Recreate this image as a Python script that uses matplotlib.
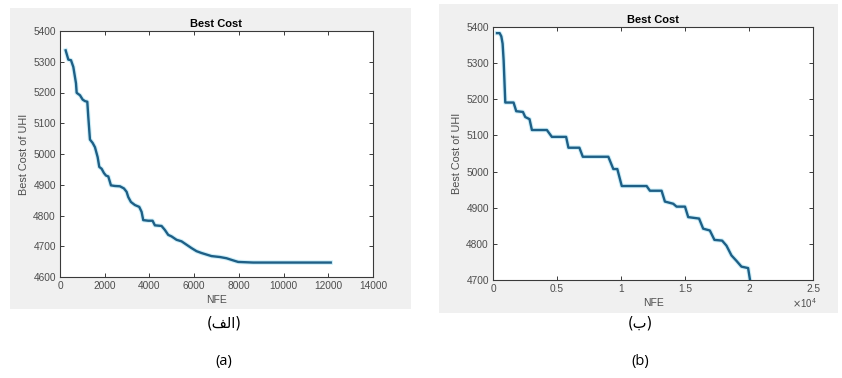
import matplotlib
matplotlib.use("Agg")
import matplotlib.pyplot as plt
from matplotlib.patches import Rectangle
from matplotlib.ticker import MultipleLocator

plt.rcParams['font.family'] = ['Liberation Sans', 'DejaVu Sans']

# Run (a): best cost against number of function evaluations
nfe_a = [253, 372, 492, 596, 715, 745, 894, 1013, 1117, 1221, 1266, 1340, 1460,
         1564, 1683, 1757, 1862, 1966, 2055, 2160, 2279, 2457, 2681, 2860, 2979,
         3053, 3172, 3351, 3545, 3649, 3723, 3947, 4140, 4244, 4542, 4691, 4840,
         4989, 5213, 5436, 5660, 5883, 6106, 6330, 6553, 6777, 7149, 7447, 7745,
         7968, 8638, 10128, 12109]
cost_a = [5337, 5307, 5305, 5283, 5230, 5199, 5191, 5177, 5172, 5170, 5120, 5047,
          5036, 5022, 4990, 4958, 4952, 4938, 4930, 4927, 4898, 4896, 4895, 4888,
          4877, 4860, 4844, 4834, 4828, 4812, 4785, 4783, 4783, 4768, 4766, 4753,
          4737, 4732, 4721, 4716, 4705, 4694, 4684, 4678, 4673, 4668, 4665, 4661,
          4654, 4649, 4647, 4647, 4647]

# Run (b): best cost against number of function evaluations
nfe_b = [312, 520, 650, 750, 830, 960, 1606, 1816, 2338, 2518, 2853, 3040, 4209,
         4598, 5713, 5892, 6750, 7015, 9010, 9400, 9712, 10060, 12000, 12260,
         13170, 13430, 14080, 14340, 15000, 15250, 16100, 16420, 16940, 17300,
         17900, 18240, 18630, 19020, 19410, 19930, 20080]
cost_b = [5383, 5383, 5374, 5354, 5308, 5191, 5191, 5167, 5165, 5151, 5145, 5115,
          5115, 5096, 5096, 5066, 5066, 5041, 5041, 5007, 5007, 4960, 4960, 4947,
          4947, 4917, 4911, 4903, 4903, 4874, 4870, 4842, 4837, 4811, 4809, 4795,
          4768, 4753, 4737, 4733, 4700]

line_color = '#1e5f86'
halo_color = '#cdeff9'
tick_color = '#4d4d4d'

W, H = 842, 378
fig = plt.figure(figsize=(W / 100, H / 100), dpi=100)
fig.patch.set_facecolor('white')


def px_rect(x0, y0, x1, y1):
    return [x0 / W, 1 - y1 / H, (x1 - x0) / W, (y1 - y0) / H]


# light gray panel behind each figure
for (x0, y0, x1, y1) in [(10, 8, 411, 309), (439, 4, 838, 313)]:
    fig.patches.append(Rectangle((x0 / W, 1 - y1 / H), (x1 - x0) / W, (y1 - y0) / H,
                                 transform=fig.transFigure, facecolor='#f0f0f0',
                                 edgecolor='none', zorder=-5))


def style_axes(ax):
    ax.set_zorder(2)
    ax.set_facecolor('white')
    for s in ax.spines.values():
        s.set_color('#3a3a3a')
        s.set_linewidth(0.8)
    ax.tick_params(direction='in', length=3, width=0.7, colors='#3a3a3a',
                   labelcolor=tick_color, labelsize=7.3, top=True, right=True, pad=3)
    ax.set_title('Best Cost', fontsize=8, fontweight='bold', pad=3)
    ax.set_ylabel('Best Cost of UHI', fontsize=7.8, color=tick_color, labelpad=3)
    ax.set_xlabel('NFE', fontsize=7.5, color=tick_color, labelpad=3)


# (a)
ax1 = fig.add_axes(px_rect(60, 31, 373, 277))
ax1.plot(nfe_a, cost_a, color=halo_color, lw=3.2, zorder=2)
ax1.plot(nfe_a, cost_a, color=line_color, lw=1.7, zorder=3)
ax1.set_xlim(0, 14000)
ax1.set_ylim(4600, 5400)
ax1.xaxis.set_major_locator(MultipleLocator(2000))
ax1.yaxis.set_major_locator(MultipleLocator(100))
style_axes(ax1)

# (b)
ax2 = fig.add_axes(px_rect(493, 27, 813, 280))
xb = [v / 1e4 for v in nfe_b]
ax2.plot(xb, cost_b, color=halo_color, lw=3.2, zorder=2)
ax2.plot(xb, cost_b, color=line_color, lw=1.7, zorder=3)
ax2.set_xlim(0, 2.5)
ax2.set_ylim(4700, 5400)
ax2.set_xticks([0, 0.5, 1, 1.5, 2, 2.5])
ax2.set_xticklabels(['0', '0.5', '1', '1.5', '2', '2.5'])
ax2.yaxis.set_major_locator(MultipleLocator(100))
style_axes(ax2)
fig.text(804 / W, 1 - 303 / H, r'$\times\mathregular{10^{4}}$', fontsize=7,
         color=tick_color, ha='center', va='center')

# captions (Arabic letters in their joined display forms)
cap_font = ['DejaVu Sans']
fig.text(224 / W, 1 - 323 / H, '(\uFED2\uFEDF\uFE8D)', fontsize=10.5, ha='center',
         va='center', family=cap_font)
fig.text(640 / W, 1 - 323 / H, '(\uFE8F)', fontsize=10.5, ha='center', va='center',
         family=cap_font)
fig.text(224 / W, 1 - 362 / H, '(a)', fontsize=10.5, ha='center', va='center',
         family=['Open Sans', 'DejaVu Sans'])
fig.text(640 / W, 1 - 362 / H, '(b)', fontsize=10.5, ha='center', va='center',
         family=['Open Sans', 'DejaVu Sans'])

fig.savefig('out.png', dpi=100, facecolor='white')
